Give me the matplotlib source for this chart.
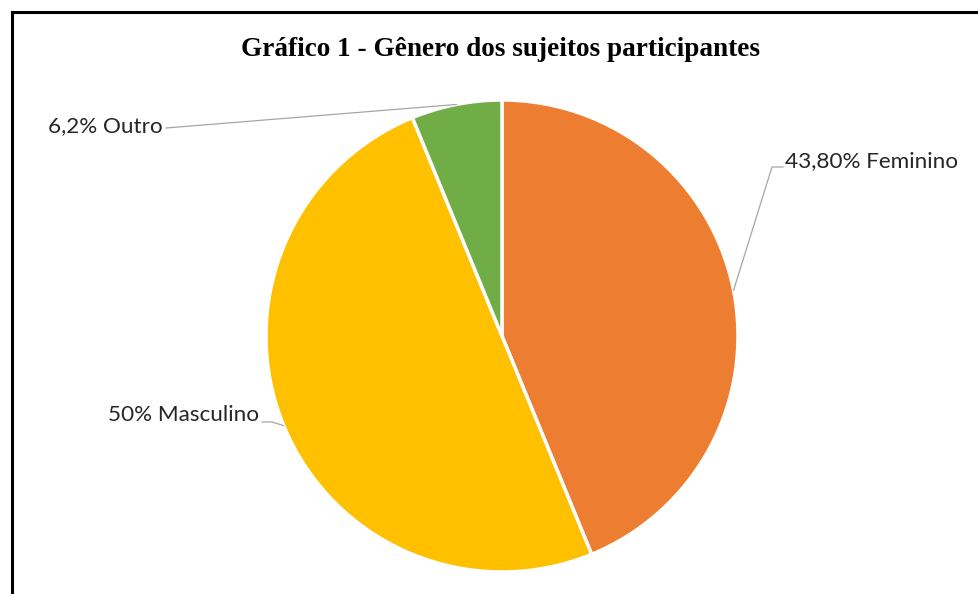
import numpy as np
import matplotlib.pyplot as plt
from matplotlib.lines import Line2D

categorias = ['Feminino', 'Masculino', 'Outro']
valores = [43.8, 50.0, 6.2]
rotulos = ['43,80% Feminino', '50% Masculino', '6,2% Outro']
cores = ['#ED7D31', '#FFC000', '#70AD47']

W, H = 979, 594
fig = plt.figure(figsize=(W / 100, H / 100), dpi=100)

# centro do pie em pixels (502, 336), raio 236
cx, cy, r = 502, 336, 236
ax = fig.add_axes([(cx - r) / W, (H - cy - r) / H, 2 * r / W, 2 * r / H])
wedges, _ = ax.pie(valores, colors=cores, startangle=90, counterclock=False,
                   radius=1, wedgeprops=dict(edgecolor='white', linewidth=2.5))
ax.set_xlim(-1, 1)
ax.set_ylim(-1, 1)
ax.set_aspect('equal')
ax.axis('off')


def px(x, y):
    # pixel -> coordenadas do eixo
    return (x - cx) / r, (cy - y) / r


fonte = ['Lato', 'DejaVu Sans']
cinza = '#A6A6A6'
fs = 16.2

# pontos de ancoragem no meio de cada fatia
ancoras = []
for w in wedges:
    ang = np.deg2rad((w.theta1 + w.theta2) / 2)
    ancoras.append((np.cos(ang), np.sin(ang)))

# Feminino
ax_, ay_ = ancoras[0]
p1 = px(772, 167)
p2 = px(783, 167)
ax.plot([ax_, p1[0], p2[0]], [ay_, p1[1], p2[1]], color=cinza, lw=0.9, clip_on=False)
tx, ty = px(785, 161)
ax.text(tx, ty, rotulos[0], ha='left', va='center', fontsize=fs,
        family=fonte, color='#262626', clip_on=False)

# Masculino
ax_, ay_ = ancoras[1]
p1 = px(272, 422)
p2 = px(262, 422)
ax.plot([ax_, p1[0], p2[0]], [ay_, p1[1], p2[1]], color=cinza, lw=0.9, clip_on=False)
tx, ty = px(259, 415)
ax.text(tx, ty, rotulos[1], ha='right', va='center', fontsize=fs,
        family=fonte, color='#262626', clip_on=False)

# Outro
ax_, ay_ = ancoras[2]
p1 = px(166, 128)
ax.plot([ax_, p1[0]], [ay_, p1[1]], color=cinza, lw=0.9, clip_on=False)
tx, ty = px(163, 126)
ax.text(tx, ty, rotulos[2], ha='right', va='center', fontsize=fs,
        family=fonte, color='#262626', clip_on=False)

fig.text(501 / W, 1 - 50 / H, 'Gráfico 1 - Gênero dos sujeitos participantes',
         ha='center', va='center', fontsize=19.6, fontweight='bold',
         family='Liberation Serif', color='black')

# moldura (apenas esquerda e topo visíveis)
fig.add_artist(Line2D([11.5 / W, 11.5 / W], [0, 1 - 12 / H], color='black', lw=2.2,
                      transform=fig.transFigure))
fig.add_artist(Line2D([11.5 / W, 1], [1 - 12 / H, 1 - 12 / H], color='black', lw=2.2,
                      transform=fig.transFigure))

fig.savefig('out.png', dpi=100)
